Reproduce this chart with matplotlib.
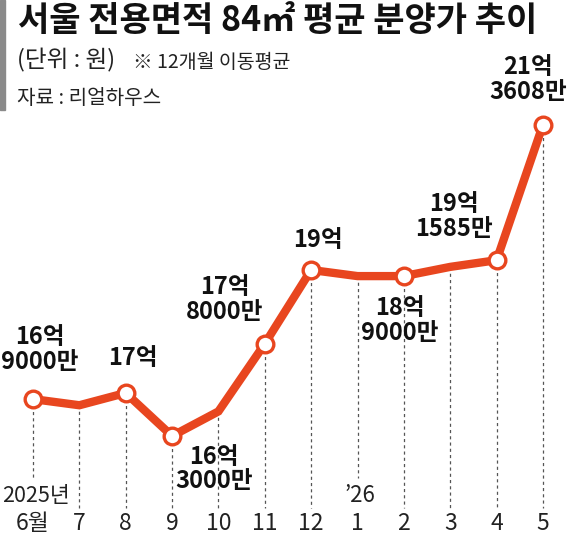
import matplotlib

matplotlib.use("Agg")

import matplotlib.pyplot as plt
from matplotlib.patches import Rectangle

plt.rcParams["font.family"] = ["Noto Sans CJK KR", "DejaVu Sans"]

# data (억 원, 12-month moving average)
months = ["6월", "7", "8", "9", "10", "11", "12", "1", "2", "3", "4", "5"]
prices = [16.9, 16.8, 17.0, 16.3, 16.7, 17.8, 19.0, 18.9, 18.9, 19.05, 19.1585, 21.3608]
labelled = [0, 2, 3, 5, 6, 8, 10, 11]
label_texts = ["16억\n9000만", "17억", "16억\n3000만", "17억\n8000만", "19억",
               "18억\n9000만", "19억\n1585만", "21억\n3608만"]

# layout (pixel offsets of each label from its point)
label_offsets = [(7, 50), (7, 35), (42, -33), (-40, 44), (7, 30), (-4, -44), (-43, 44), (-15, 45)]

W, H, DPI = 570, 545, 100
RED = "#e8461f"

fig = plt.figure(figsize=(W / DPI, H / DPI), dpi=DPI)
ax = fig.add_axes([0, 0, 1, 1])
ax.set_axis_off()

# pixel mapping: x 0 -> 33px, step 46.36px; y 16.3 -> 436px, 61.5 px per 억
step, ppu = 46.36, 61.5
ax.set_xlim(-33 / step, (W - 33) / step)
ax.set_ylim(16.3 - (H - 436) / ppu, 16.3 + 436 / ppu)


def ypx(p):
    return 16.3 - (p - 436) / ppu


xs = list(range(len(months)))
for i, v in zip(xs, prices):
    bottom = ypx(478) if i in (0, 7) else ypx(508)
    ax.plot([i, i], [v, bottom], color="#555555", lw=0.9, ls=(0, (2.5, 2.5)), zorder=1)

ax.plot(xs, prices, color=RED, lw=6, solid_joinstyle="miter", zorder=2)
ax.plot([xs[i] for i in labelled], [prices[i] for i in labelled], "o", ms=12,
        mfc="white", mec=RED, mew=2.4, zorder=3)

for i, txt, (dx, dy) in zip(labelled, label_texts, label_offsets):
    ax.annotate(txt, (xs[i], prices[i]), xytext=(dx, dy), textcoords="offset pixels",
                ha="center", va="center", fontsize=17, fontweight="bold",
                linespacing=1.05, color="#111111")

for i, m in enumerate(months):
    ax.text(i, ypx(524), m, ha="center", va="center", fontsize=16.5, color="#222222")
ax.text(3 / step, ypx(496), "2025년", ha="center", va="center", fontsize=15.5, color="#222222")
ax.text(7.05, ypx(496), "’26", ha="center", va="center", fontsize=16, color="#222222")

# header
fig.patches.append(Rectangle((0, 1 - 110 / H), 5 / W, 110 / H, transform=fig.transFigure,
                             color="#8a8a8a"))
fig.text(18 / W, 1 - 20 / H, "서울 전용면적 84㎡ 평균 분양가 추이", ha="left", va="center",
         fontsize=24.5, fontweight="bold", color="#111111")
fig.text(17 / W, 1 - 60 / H, "(단위 : 원)", ha="left", va="center", fontsize=17,
         color="#222222")
fig.text(133 / W, 1 - 62 / H, "※ 12개월 이동평균", ha="left", va="center", fontsize=14,
         color="#222222")
fig.text(17 / W, 1 - 98 / H, "자료 : 리얼하우스", ha="left", va="center", fontsize=14.5,
         color="#222222")

fig.savefig("out.png", dpi=DPI)
